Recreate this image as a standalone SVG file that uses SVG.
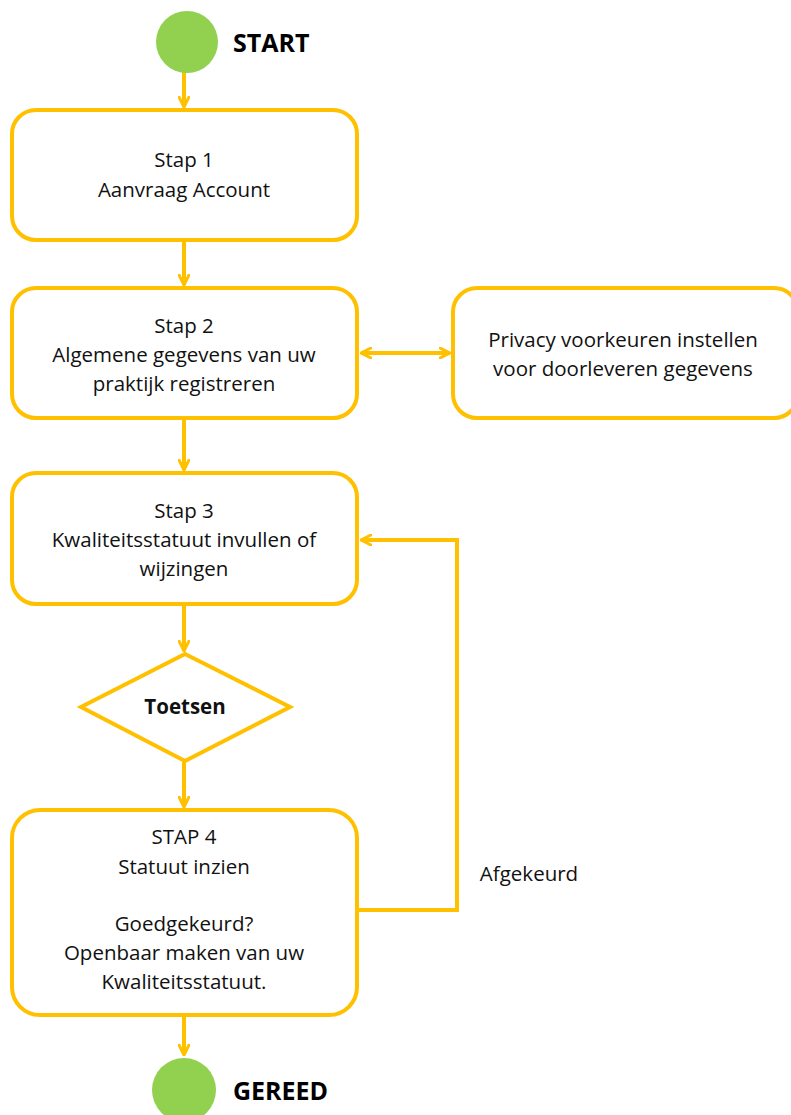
<svg xmlns="http://www.w3.org/2000/svg" width="791" height="1115" viewBox="0 0 791 1115">
<style>
.box{fill:#fff;stroke:#FFC000;stroke-width:4}
.con{fill:none;stroke:#FFC000;stroke-width:4}
.t{font-family:"Open Sans","Liberation Sans",sans-serif;font-size:20.5px;fill:#111;text-anchor:middle}
.big{font-family:"Open Sans","Liberation Sans",sans-serif;font-size:25px;font-weight:bold;fill:#000}
.dot{fill:#92D050}
</style>
<defs>
<marker id="ah" viewBox="0 0 12 12" refX="11" refY="6" markerWidth="12" markerHeight="12" markerUnits="userSpaceOnUse" orient="auto-start-reverse">
<path d="M1,1 L11,6 L1,11" fill="none" stroke="#FFC000" stroke-width="3" stroke-linecap="round" stroke-linejoin="round"/>
</marker>
</defs>
<rect width="791" height="1115" fill="#fff"/>
<g id="connectors">
<line class="con" x1="184" y1="72" x2="184" y2="107" marker-end="url(#ah)"/>
<line class="con" x1="184" y1="240" x2="184" y2="285" marker-end="url(#ah)"/>
<line class="con" x1="361" y1="353" x2="450" y2="353" marker-start="url(#ah)" marker-end="url(#ah)"/>
<line class="con" x1="184" y1="418" x2="184" y2="470" marker-end="url(#ah)"/>
<line class="con" x1="184" y1="604" x2="184" y2="651" marker-end="url(#ah)"/>
<line class="con" x1="184" y1="762" x2="184" y2="807" marker-end="url(#ah)"/>
<polyline class="con" points="357,910 457,910 457,540 361,540" marker-end="url(#ah)"/>
<line class="con" x1="184" y1="1015" x2="184" y2="1055" marker-end="url(#ah)"/>
</g>
<g id="start">
<circle class="dot" cx="187" cy="42" r="31"/>
<text class="big" x="233" y="52">START</text>
</g>
<g id="stap1">
<rect class="box" x="12" y="110" width="345" height="130" rx="24"/>
<text class="t" x="184" y="167">Stap 1</text>
<text class="t" x="184" y="197">Aanvraag Account</text>
</g>
<g id="stap2">
<rect class="box" x="12" y="288" width="345" height="130" rx="24"/>
<text class="t" x="184" y="333">Stap 2</text>
<text class="t" x="184" y="362">Algemene gegevens van uw</text>
<text class="t" x="184" y="391">praktijk registreren</text>
</g>
<g id="privacy">
<rect class="box" x="453" y="288" width="345" height="130" rx="24"/>
<text class="t" x="623" y="347">Privacy voorkeuren instellen</text>
<text class="t" x="623" y="376">voor doorleveren gegevens</text>
</g>
<g id="stap3">
<rect class="box" x="12" y="473" width="345" height="131" rx="24"/>
<text class="t" x="184" y="518">Stap 3</text>
<text class="t" x="184" y="547">Kwaliteitsstatuut invullen of</text>
<text class="t" x="184" y="576">wijzingen</text>
</g>
<g id="toetsen">
<polygon class="box" points="185,654 290,707 185,761 81,707"/>
<text class="t" x="185" y="714" font-weight="bold">Toetsen</text>
</g>
<g id="stap4">
<rect class="box" x="12" y="810" width="345" height="205" rx="28"/>
<text class="t" x="184" y="844">STAP 4</text>
<text class="t" x="184" y="874">Statuut inzien</text>
<text class="t" x="184" y="931">Goedgekeurd?</text>
<text class="t" x="184" y="960">Openbaar maken van uw</text>
<text class="t" x="184" y="989">Kwaliteitsstatuut.</text>
</g>
<g id="afgekeurd">
<text class="t" x="529" y="881">Afgekeurd</text>
</g>
<g id="gereed">
<circle class="dot" cx="184" cy="1090" r="32"/>
<text class="big" x="233" y="1100">GEREED</text>
</g>
</svg>
